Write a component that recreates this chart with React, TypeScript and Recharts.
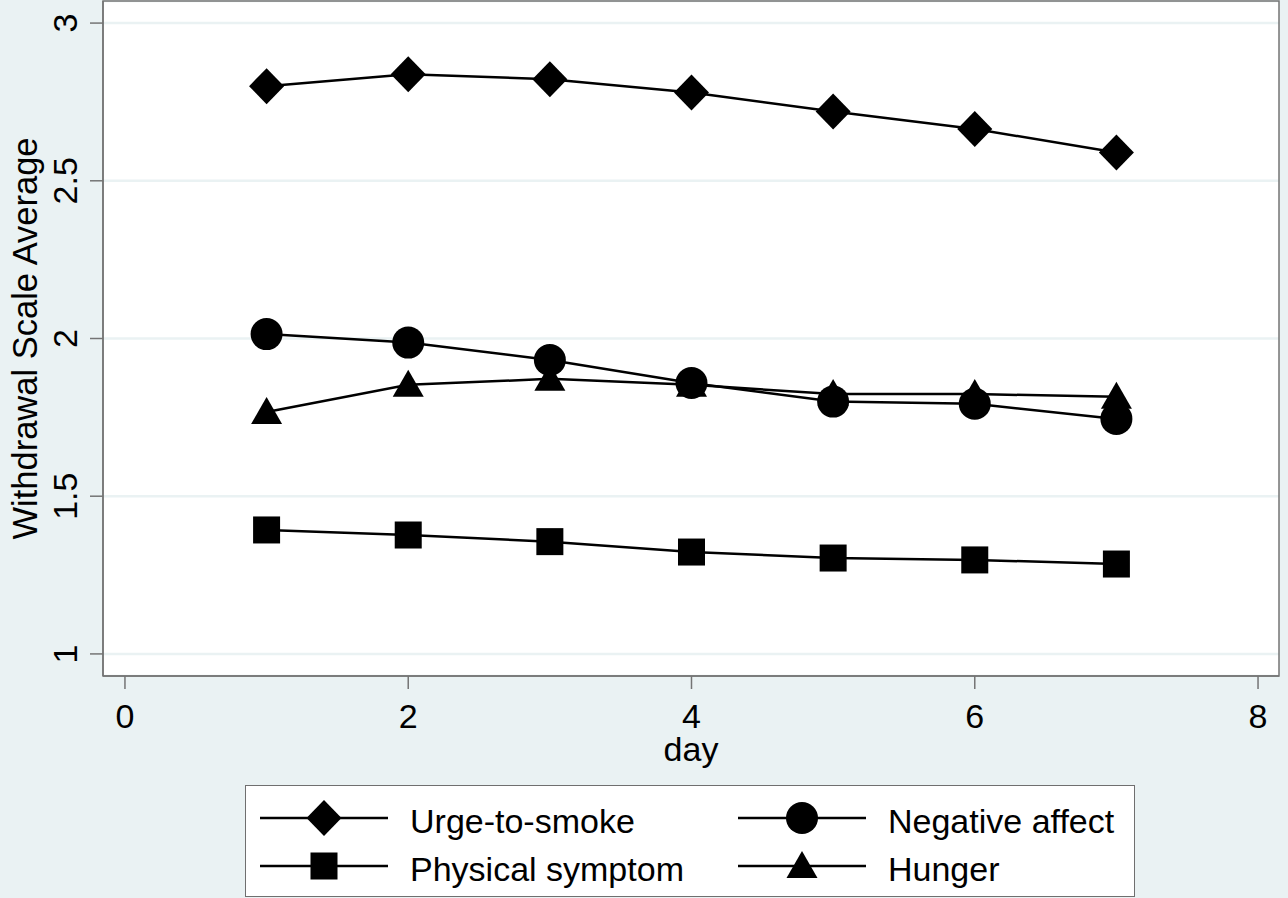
import React from 'react';
import { LineChart, Line, XAxis, YAxis, CartesianGrid, ReferenceArea } from 'recharts';

const days = [1, 2, 3, 4, 5, 6, 7];
const urge = [2.8, 2.838, 2.822, 2.78, 2.72, 2.664, 2.59];
const negAffect = [2.014, 1.987, 1.932, 1.859, 1.8, 1.793, 1.745];
const physical = [1.393, 1.377, 1.356, 1.323, 1.304, 1.298, 1.285];
const hunger = [1.767, 1.853, 1.872, 1.853, 1.824, 1.824, 1.815];

const xTicks = [0, 2, 4, 6, 8];
const yTicks = [1, 1.5, 2, 2.5, 3];

const data = days.map((d, i) => ({
  day: d,
  urge: urge[i],
  neg: negAffect[i],
  phys: physical[i],
  hunger: hunger[i],
}));

const BG = '#EAF2F3';
const FONT = '"Liberation Sans", Arial, Helvetica, sans-serif';

const Diamond = ({ cx, cy }: any) => (
  <polygon points={`${cx},${cy - 18} ${cx + 17.5},${cy} ${cx},${cy + 18} ${cx - 17.5},${cy}`} fill="#000" />
);
const Dot = ({ cx, cy }: any) => <circle cx={cx} cy={cy} r={16} fill="#000" />;
const Square = ({ cx, cy }: any) => <rect x={cx - 13.5} y={cy - 13.5} width={27} height={27} fill="#000" />;
const Triangle = ({ cx, cy }: any) => (
  <polygon points={`${cx},${cy - 15} ${cx + 15.5},${cy + 12} ${cx - 15.5},${cy + 12}`} fill="#000" />
);

// x tick labels sit with baseline ~39px below the tick end
const XTick = ({ x, y, payload }: any) => (
  <text x={x} y={y + 39} textAnchor="middle" fontSize={34} fill="#000" fontFamily={FONT}>
    {payload.value}
  </text>
);

// stata-style rotated y tick labels
const YTick = ({ y, payload }: any) => (
  <text x={77} y={y} textAnchor="middle" fontSize={34} fill="#000" fontFamily={FONT} transform={`rotate(-90, 77, ${y})`}>
    {payload.value}
  </text>
);

const legendItems = [
  { name: 'Urge-to-smoke', Mark: Diamond, left: 15, top: 33 },
  { name: 'Negative affect', Mark: Dot, left: 493, top: 33 },
  { name: 'Physical symptom', Mark: Square, left: 15, top: 81 },
  { name: 'Hunger', Mark: Triangle, left: 493, top: 81 },
];

function LegendBox() {
  return (
    <div
      style={{
        position: 'absolute',
        left: 245,
        top: 785,
        width: 890,
        height: 112,
        background: '#fff',
        border: '1.5px solid #6f6f6f',
        boxSizing: 'border-box',
      }}
    >
      <svg width={890} height={112} style={{ position: 'absolute', left: -1.5, top: -1.5 }}>
        {legendItems.map(({ name, Mark, left, top }) => (
          <g key={name}>
            <line x1={left} x2={left + 128} y1={top} y2={top} stroke="#000" strokeWidth={2.5} />
            <Mark cx={left + 64} cy={top} />
            <text x={left + 150} y={top + 15} fontSize={34} fill="#000" fontFamily={FONT}>
              {name}
            </text>
          </g>
        ))}
      </svg>
    </div>
  );
}

export default function App() {
  return (
    <div style={{ position: 'absolute', left: 0, top: 0, width: 1288, height: 898, background: BG, fontFamily: FONT }}>
      <LineChart width={1288} height={898} data={data} margin={{ top: 1, right: 9, left: 0, bottom: 0 }}>
        <CartesianGrid vertical={false} stroke={BG} strokeWidth={2.5} fill="#fff" />
        <ReferenceArea x1={-0.155} x2={8.148} y1={0.93} y2={3.07} fill="none" stroke="#747474" strokeWidth={1.5} />
        <XAxis
          dataKey="day"
          type="number"
          domain={[-0.155, 8.148]}
          ticks={xTicks}
          height={222}
          tickSize={13}
          tickMargin={0}
          stroke="#747474"
          strokeWidth={1.5}
          tick={<XTick />}
          label={({ viewBox }: any) => (
            <text x={viewBox.x + viewBox.width / 2} y={viewBox.y + 85} textAnchor="middle" fontSize={34} fill="#000" fontFamily={FONT}>
              day
            </text>
          )}
        />
        <YAxis
          type="number"
          domain={[0.93, 3.07]}
          ticks={yTicks}
          width={103}
          tickSize={13}
          tickMargin={0}
          stroke="#747474"
          strokeWidth={1.5}
          tick={<YTick />}
          label={({ viewBox }: any) => {
            const cy = viewBox.y + viewBox.height / 2;
            return (
              <text x={37} y={cy} textAnchor="middle" fontSize={34.5} fill="#000" fontFamily={FONT} transform={`rotate(-90, 37, ${cy})`}>
                Withdrawal Scale Average
              </text>
            );
          }}
        />
        <Line dataKey="urge" stroke="#000" strokeWidth={2.5} isAnimationActive={false} dot={(p: any) => <Diamond key={p.index} {...p} />} />
        <Line dataKey="neg" stroke="#000" strokeWidth={2.5} isAnimationActive={false} dot={(p: any) => <Dot key={p.index} {...p} />} />
        <Line dataKey="phys" stroke="#000" strokeWidth={2.5} isAnimationActive={false} dot={(p: any) => <Square key={p.index} {...p} />} />
        <Line dataKey="hunger" stroke="#000" strokeWidth={2.5} isAnimationActive={false} dot={(p: any) => <Triangle key={p.index} {...p} />} />
      </LineChart>
      <LegendBox />
    </div>
  );
}
